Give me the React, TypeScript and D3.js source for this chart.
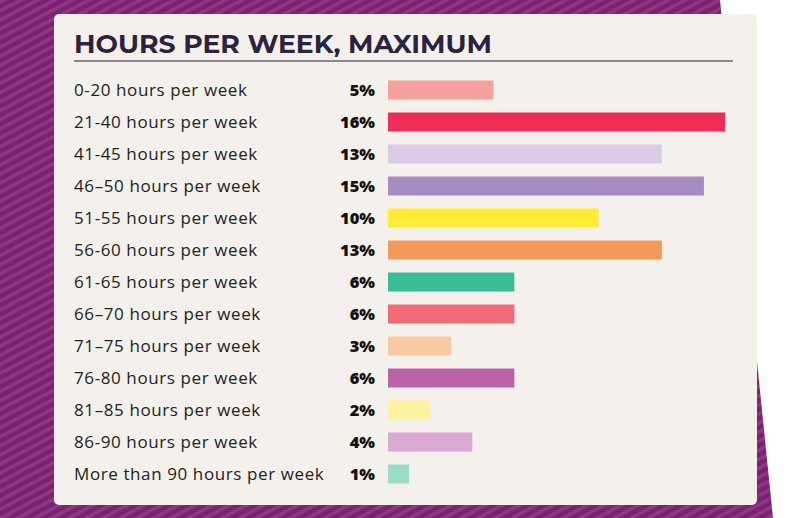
import React from "react";
import * as d3 from "d3";

const categories = [
  "0-20 hours per week",
  "21-40 hours per week",
  "41-45 hours per week",
  "46–50 hours per week",
  "51-55 hours per week",
  "56-60 hours per week",
  "61-65 hours per week",
  "66–70 hours per week",
  "71–75 hours per week",
  "76-80 hours per week",
  "81–85 hours per week",
  "86-90 hours per week",
  "More than 90 hours per week",
];
const values = [5, 16, 13, 15, 10, 13, 6, 6, 3, 6, 2, 4, 1];
const colors = [
  "#f5a09c", "#ee2e57", "#dacae6", "#a98bc3", "#fdec38", "#f29a59", "#3bbe98",
  "#f16c77", "#fbc9a1", "#bc62a9", "#fcf29f", "#dca9d4", "#9cdcc6",
];
const title = "HOURS PER WEEK, MAXIMUM";

export default function App() {
  const W = 800, H = 518;
  const x = d3.scaleLinear().domain([0, 16]).range([388, 725]);
  const bh = 19;
  return (
    <svg width={W} height={H} style={{ position: "absolute", left: 0, top: 0 }}>
      <defs>
        <pattern id="stripes" width="8" height="8" patternUnits="userSpaceOnUse" patternTransform="rotate(-28)">
          <rect width="8" height="8" fill="#7b216f" />
          <rect width="8" height="3.5" fill="#8f3686" />
        </pattern>
      </defs>
      <rect width={W} height={H} fill="#ffffff" />
      <polygon points="0,0 720,0 773,518 0,518" fill="url(#stripes)" />
      <rect x={54} y={14} width={703} height={491} rx={5} fill="#f4f1ec" />
      <text x={74} y={53} fontFamily="Montserrat, 'Open Sans', sans-serif" fontWeight={700} fontSize={25} fill="#2c2241" textLength={418} lengthAdjust="spacingAndGlyphs">{title}</text>
      <line x1={74} x2={733} y1={61} y2={61} stroke="#8c8790" strokeWidth={2} />
      {categories.map((c, i) => {
        const cy = 90 + i * 32;
        return (
          <g key={c}>
            <text x={74} y={cy} dy="0.35em" fontFamily="'Open Sans', sans-serif" fontSize={17} letterSpacing={0.6} fill="#222">{c}</text>
            <text x={375} y={cy} dy="0.35em" textAnchor="end" fontFamily="'Open Sans', sans-serif" fontWeight={800} fontSize={16.5} fill="#111">{values[i]}%</text>
            <rect x={x(0)} y={cy - bh / 2} width={x(values[i]) - x(0)} height={bh} fill={colors[i]} />
          </g>
        );
      })}
    </svg>
  );
}
